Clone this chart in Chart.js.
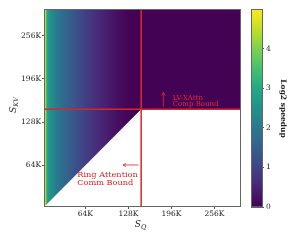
<!DOCTYPE html>
<html lang="en">
<head>
<meta charset="UTF-8">
<title>LV-XAttn speedup map</title>
<script src="https://cdn.jsdelivr.net/npm/chart.js@4.4.1/dist/chart.umd.min.js"></script>
<style>
  body { margin: 0; background: #fff; }
  #wrap { position: relative; width: 300px; height: 240px; }
  canvas { position: absolute; top: 0; }
  .ax { position: absolute; font: italic 9px 'DejaVu Serif', serif; color: #222; white-space: nowrap; }
  .ax sub { font-size: 6.5px; vertical-align: -2px; }
</style>
</head>
<body>
<div id="wrap">
  <canvas id="main" width="300" height="240" style="left:0"></canvas>
  <canvas id="cbar" width="60" height="240" style="left:240px"></canvas>
  <div class="ax" id="xt">S<sub>Q</sub></div>
  <div class="ax" id="yt">S<sub>KV</sub></div>
</div>
<script>
// sequence lengths in K tokens
const axisRange = [4, 294];
const tickVals = [64, 128, 192, 256];
const tickLabels = ['64K', '128K', '196K', '256K'];

// S_Q sample points and the log2 speedup
const sqK = [4, 6, 8, 12, 16, 20, 24, 28, 32, 36, 40, 44, 48, 52, 56, 60, 64, 68, 72, 76,
             80, 84, 88, 92, 96, 100, 104, 108, 112, 116, 120, 124, 128, 132, 136, 140, 147];
const speedup = [4.9, 3.5, 2.8, 2.5, 2.3, 2.12, 1.97, 1.84, 1.72, 1.6, 1.5, 1.4, 1.3, 1.2, 1.1, 1.02, 0.94, 0.86, 0.79, 0.72,
                 0.65, 0.58, 0.52, 0.46, 0.4, 0.35, 0.3, 0.25, 0.2, 0.15, 0.11, 0.07, 0.04, 0.02, 0.01, 0, 0];
const speedupRight = 0.02;   // region right of the compute bound

// the two bounds (K tokens)
const compBoundSQ = 147;
const commBoundSKV = 147;

const cbMax = 4.98;
const cbTicks = [0, 1, 2, 3, 4];

const RED = '#d62728';
const FONT = "'DejaVu Serif', serif";

const VIRIDIS = ['#440154', '#482475', '#414487', '#355f8d', '#2a788e', '#21918c',
                 '#22a884', '#44bf70', '#7ad151', '#bddf26', '#fde725'];
function hex(h) { return [1, 3, 5].map(i => parseInt(h.substr(i, 2), 16)); }
function viridis(t) {
  t = Math.min(1, Math.max(0, t));
  const p = t * 10, i = Math.min(9, Math.floor(p)), f = p - i;
  const a = hex(VIRIDIS[i]), b = hex(VIRIDIS[i + 1]);
  const c = a.map((v, k) => Math.round(v + (b[k] - v) * f));
  return `rgb(${c[0]},${c[1]},${c[2]})`;
}

function heatGradient(c) {
  const chart = c.chart;
  if (!chart.chartArea) return viridis(0);
  const x = chart.scales.x;
  const x0 = x.getPixelForValue(sqK[0]), x1 = x.getPixelForValue(sqK[sqK.length - 1]);
  const g = chart.ctx.createLinearGradient(x0, 0, x1, 0);
  sqK.forEach((s, i) => g.addColorStop((x.getPixelForValue(s) - x0) / (x1 - x0), viridis(speedup[i] / cbMax)));
  return g;
}

// frame round the plot area (matplotlib spines)
const frame = {
  id: 'frame',
  afterDatasetsDraw(chart) {
    const {ctx, chartArea: a} = chart;
    ctx.save();
    ctx.strokeStyle = '#666';
    ctx.lineWidth = 1;
    ctx.strokeRect(Math.round(a.left) - 0.5, Math.round(a.top) - 0.5, Math.round(a.width) + 1, Math.round(a.height) + 1);
    ctx.restore();
  }
};

// arrows and labels for the two bounds
const notes = [
  {from: [180, 151], to: [180, 172], text: ['LV-XAttn', 'Comp Bound'], at: [194, 164], size: 7, gap: 6.5, color: '#e8283a'},
  {from: [143, 64.7], to: [120, 64.7], text: ['Ring Attention', 'Comm Bound'], at: [52, 50], size: 8.2, gap: 8.3, color: RED}
];
const annot = {
  id: 'annot',
  afterDatasetsDraw(chart) {
    const {ctx} = chart, x = chart.scales.x, y = chart.scales.y;
    ctx.save();
    ctx.lineWidth = 0.8;
    notes.forEach(n => {
      ctx.strokeStyle = n.color;
      ctx.fillStyle = n.color;
      const fx = x.getPixelForValue(n.from[0]), fy = y.getPixelForValue(n.from[1]);
      const tx = x.getPixelForValue(n.to[0]), ty = y.getPixelForValue(n.to[1]);
      const ang = Math.atan2(ty - fy, tx - fx), h = 3.5;
      ctx.beginPath();
      ctx.moveTo(fx, fy); ctx.lineTo(tx, ty);
      ctx.moveTo(tx - h * Math.cos(ang - 0.5), ty - h * Math.sin(ang - 0.5));
      ctx.lineTo(tx, ty);
      ctx.lineTo(tx - h * Math.cos(ang + 0.5), ty - h * Math.sin(ang + 0.5));
      ctx.stroke();
      ctx.font = `${n.size}px ${FONT}`;
      ctx.textAlign = 'left';
      ctx.textBaseline = 'middle';
      const lx = x.getPixelForValue(n.at[0]), ly = y.getPixelForValue(n.at[1]);
      n.text.forEach((t, i) => ctx.fillText(t, lx, ly + i * n.gap));
    });
    ctx.restore();
  }
};

const tickFont = {family: FONT, size: 7.5};

new Chart(document.getElementById('main'), {
  type: 'scatter',
  data: {
    datasets: [
      { // colour map left of the compute bound
        data: [{x: sqK[0], y: axisRange[1]}, {x: sqK[sqK.length - 1], y: axisRange[1]}],
        showLine: true, pointRadius: 0, borderWidth: 0,
        fill: 'origin', backgroundColor: heatGradient, order: 5
      },
      { // right of the compute bound, above the comm bound
        data: [{x: compBoundSQ, y: axisRange[1]}, {x: axisRange[1], y: axisRange[1]}],
        showLine: true, pointRadius: 0, borderWidth: 0,
        fill: {value: commBoundSKV}, backgroundColor: viridis(speedupRight / cbMax), order: 4
      },
      { // S_KV < S_Q is not shown
        data: [{x: axisRange[0], y: axisRange[0]}, {x: compBoundSQ, y: commBoundSKV}],
        showLine: true, pointRadius: 0, borderWidth: 0,
        fill: 'origin', backgroundColor: '#fff', order: 3
      },
      {
        data: [{x: compBoundSQ, y: axisRange[0]}, {x: compBoundSQ, y: axisRange[1]}],
        showLine: true, pointRadius: 0, borderWidth: 1.5, borderColor: RED, order: 1
      },
      {
        data: [{x: axisRange[0], y: commBoundSKV}, {x: axisRange[1], y: commBoundSKV}],
        showLine: true, pointRadius: 0, borderWidth: 1.5, borderColor: RED, order: 1
      }
    ]
  },
  options: {
    responsive: false,
    animation: false,
    layout: {padding: {left: 0, right: 60, top: 10, bottom: 0}},
    plugins: {legend: {display: false}, tooltip: {enabled: false}},
    scales: {
      x: {
        type: 'linear', min: axisRange[0], max: axisRange[1],
        afterBuildTicks: a => { a.ticks = tickVals.map(v => ({value: v})); },
        afterFit: a => { a.height = 34; },
        ticks: {callback: v => tickLabels[tickVals.indexOf(v)], font: tickFont, color: '#222', padding: 1, maxRotation: 0},
        grid: {drawOnChartArea: false, tickLength: 3, color: '#555'},
        border: {display: false}
      },
      y: {
        type: 'linear', min: axisRange[0], max: axisRange[1],
        afterBuildTicks: a => { a.ticks = tickVals.map(v => ({value: v})); },
        afterFit: a => { a.width = 45; },
        ticks: {callback: v => tickLabels[tickVals.indexOf(v)], font: tickFont, color: '#222', padding: 1},
        grid: {drawOnChartArea: false, tickLength: 3, color: '#555'},
        border: {display: false}
      }
    }
  },
  plugins: [frame, annot]
});

function cbGradient(c) {
  const chart = c.chart;
  if (!chart.chartArea) return viridis(0);
  const y = chart.scales.y;
  const g = chart.ctx.createLinearGradient(0, y.getPixelForValue(0), 0, y.getPixelForValue(cbMax));
  for (let i = 0; i <= 20; i++) g.addColorStop(i / 20, viridis(i / 20));
  return g;
}

new Chart(document.getElementById('cbar'), {
  type: 'bar',
  data: {
    labels: [''],
    datasets: [{data: [[0, cbMax]], backgroundColor: cbGradient, borderWidth: 0, barPercentage: 1, categoryPercentage: 1}]
  },
  options: {
    responsive: false,
    animation: false,
    layout: {padding: {left: 12, right: 0, top: 10, bottom: 33}},
    plugins: {legend: {display: false}, tooltip: {enabled: false}},
    scales: {
      x: {display: false},
      y: {
        position: 'right', min: 0, max: cbMax,
        afterBuildTicks: a => { a.ticks = cbTicks.map(v => ({value: v})); },
        afterFit: a => { a.width = 38; },
        ticks: {font: tickFont, color: '#222', padding: 2},
        grid: {drawOnChartArea: false, tickLength: 2, color: '#555'},
        border: {display: false},
        title: {display: true, text: 'Log2 speedup', font: {family: FONT, size: 7.5, weight: 'bold'}, color: '#222', padding: {top: 13, bottom: 0}}
      }
    }
  },
  plugins: [frame]
});

// axis titles with subscripts
const xt = document.getElementById('xt');
xt.style.left = '140.5px'; xt.style.top = '225px'; xt.style.transform = 'translate(-50%,-50%)';
const yt = document.getElementById('yt');
yt.style.left = '14px'; yt.style.top = '105px'; yt.style.transform = 'translate(-50%,-50%) rotate(-90deg)';
</script>
</body>
</html>
